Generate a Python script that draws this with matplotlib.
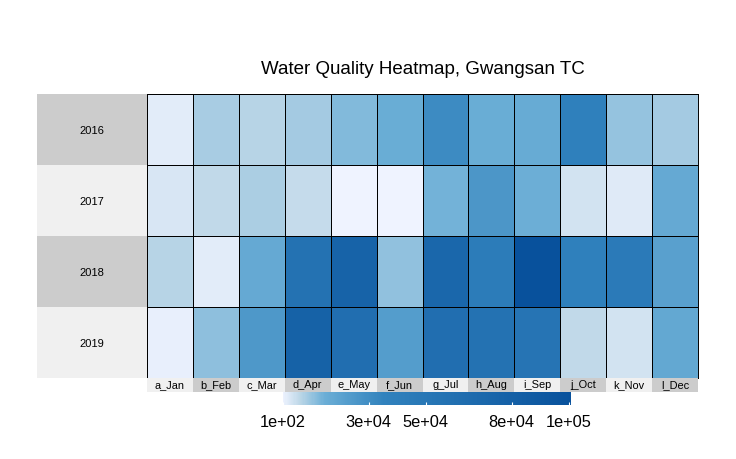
"""
Water quality heatmap with year and month strips, drawn on pixel placed axes.
"""
import numpy as np
import matplotlib
matplotlib.use('Agg')
import matplotlib.pyplot as plt
from matplotlib.colors import LinearSegmentedColormap, Normalize

plt.rcParams['font.family'] = ['Liberation Sans', 'DejaVu Sans']

years = ['2016', '2017', '2018', '2019']
months = ['a_Jan', 'b_Feb', 'c_Mar', 'd_Apr', 'e_May', 'f_Jun',
          'g_Jul', 'h_Aug', 'i_Sep', 'j_Oct', 'k_Nov', 'l_Dec']

# values
v2016 = [2000, 8500, 7000, 8900, 12600, 15500, 31400, 15500, 16400, 38300, 10600, 8900]
v2017 = [3000, 5800, 8200, 5500, 100, 300, 14000, 26400, 14700, 3700, 2300, 17200]
v2018 = [6800, 2000, 17200, 56500, 76000, 10900, 72000, 43500, 100000, 38300, 46000, 21400]
v2019 = [1200, 11300, 25600, 78000, 61600, 23000, 61600, 56500, 53900, 5800, 3800, 18000]

bar_ticks = [100, 30000, 50000, 80000, 100000]
bar_labels = ['1e+02', '3e+04', '5e+04', '8e+04', '1e+05']
blues = ['#EFF3FF', '#BDD7E7', '#6BAED6', '#3182BD', '#08519C']
blue_stops = [0, 0.06, 0.146, 0.354, 1]
strip_colors = ['#CCCCCC', '#F0F0F0']

W, H = 736, 459


def px_axes(fig, x0, y0, x1, y1):
    """
    Make axes from pixel corners, with y counted from the top of the image.
    """
    return fig.add_axes([x0 / W, 1 - y1 / H, (x1 - x0) / W, (y1 - y0) / H])


fig = plt.figure(figsize=(W / 100, H / 100), dpi=100)
cmap = LinearSegmentedColormap.from_list('wq', list(zip(blue_stops, blues)))
norm = Normalize(100, 100700)
values = np.array([v2016, v2017, v2018, v2019])

# main heatmap
ax = px_axes(fig, 147, 94, 698, 378)
mesh = ax.pcolormesh(values, cmap=cmap, norm=norm, edgecolors='black', linewidth=0.7)
ax.set_ylim(len(years), 0)
ax.set_xticks([])
ax.set_yticks([])
for spine in ax.spines.values():
    spine.set_linewidth(0.7)

# year strip on the left
ax_left = px_axes(fig, 37, 94, 147, 378)
for i, year in enumerate(years):
    ax_left.barh(i + 0.5, 1, height=1, color=strip_colors[i % 2])
    ax_left.text(0.5, i + 0.52, year, ha='center', va='center', fontsize=8)
ax_left.set_xlim(0, 1)
ax_left.set_ylim(len(years), 0)
ax_left.axis('off')

# month strip below
ax_bottom = px_axes(fig, 147, 378, 698, 392)
for i, month in enumerate(months):
    ax_bottom.bar(i + 0.5, 1, width=1, color=strip_colors[(i + 1) % 2])
    ax_bottom.text(i + 0.5, 0.5, month, ha='center', va='center', fontsize=7.9)
ax_bottom.set_xlim(0, len(months))
ax_bottom.set_ylim(0, 1)
ax_bottom.axis('off')

# colour bar
cax = px_axes(fig, 283, 392, 571, 405)
cbar = fig.colorbar(mesh, cax=cax, orientation='horizontal')
cbar.outline.set_visible(False)
cbar.solids.set_edgecolor('face')
cbar.set_ticks(bar_ticks)
cbar.set_ticklabels(bar_labels)
cax.tick_params(axis='x', direction='in', color='white', length=2.2, width=0.8,
                labelsize=11.8, pad=7)

fig.text(423 / W, 1 - 69 / H, 'Water Quality Heatmap, Gwangsan TC',
         ha='center', va='center', fontsize=13.5)

plt.savefig('out.png', dpi=100)
plt.close('all')
